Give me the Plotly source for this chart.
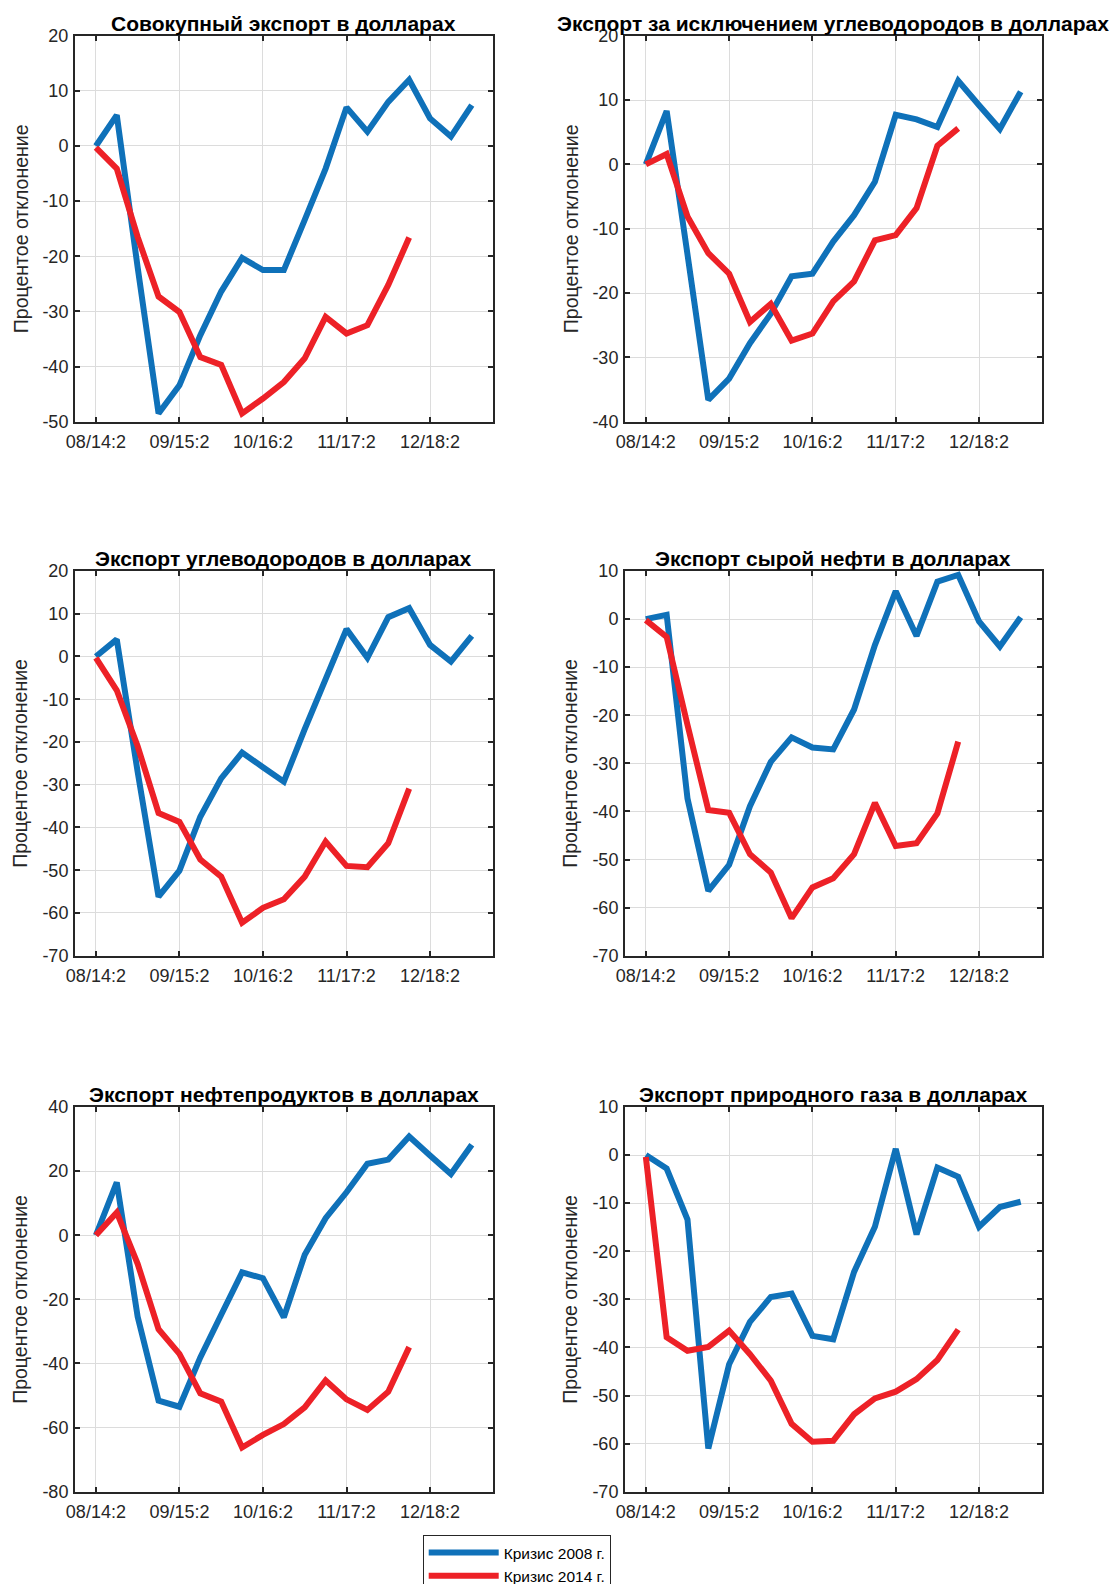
import plotly.graph_objects as go
from plotly.subplots import make_subplots

# Months since the start of each crisis (x positions)
months_2008 = [0, 1, 2, 3, 4, 5, 6, 7, 8, 9, 10, 11, 12, 13, 14, 15, 16, 17, 18]
months_2014 = [0, 1, 2, 3, 4, 5, 6, 7, 8, 9, 10, 11, 12, 13, 14, 15]

tick_months = [0, 4, 8, 12, 16]
tick_labels = ["08/14:2", "09/15:2", "10/16:2", "11/17:2", "12/18:2"]

# Percent deviation, crisis of 2008 (blue) and crisis of 2014 (red)
total_2008 = [0, 5.6, -22, -48.5, -43.4, -34.3, -26.4, -20.3, -22.5, -22.5,
              -13.4, -4.1, 7.0, 2.6, 8.0, 12.0, 5.0, 1.7, 7.4]
total_2014 = [-0.3, -4.1, -16.5, -27.3, -30.1, -38.3, -39.7, -48.5, -45.8, -42.8,
              -38.5, -31.0, -34.0, -32.5, -25.2, -16.6]

nonhc_2008 = [0, 8.3, -14, -36.6, -33.3, -27.8, -23.2, -17.4, -17.0, -12.0,
              -7.9, -2.7, 7.7, 7.0, 5.8, 13.0, 9.2, 5.5, 11.3]
nonhc_2014 = [0, 1.6, -8.1, -13.8, -17.0, -24.5, -21.7, -27.4, -26.3, -21.3,
              -18.2, -11.8, -11.0, -6.8, 2.9, 5.6]

hc_2008 = [0, 4.0, -27, -56.2, -50.1, -37.5, -28.5, -22.5, -25.9, -29.3,
           -17.0, -5.4, 6.4, -0.3, 9.2, 11.3, 2.7, -1.2, 4.8]
hc_2014 = [-0.3, -7.9, -21, -36.6, -38.7, -47.5, -51.5, -62.3, -58.8, -56.8,
           -51.5, -43.3, -49.0, -49.3, -43.7, -30.9]

crude_2008 = [0, 0.9, -37.3, -56.5, -51.1, -38.9, -29.7, -24.6, -26.7, -27.1,
              -18.8, -5.4, 5.8, -3.5, 7.8, 9.2, -0.5, -5.7, 0.4]
crude_2014 = [-0.2, -3.7, -22, -39.7, -40.3, -48.9, -52.7, -62.2, -55.8, -53.9,
              -48.9, -38.2, -47.2, -46.6, -40.4, -25.5]

products_2008 = [0, 16.5, -25.4, -51.6, -53.5, -38.1, -24.8, -11.6, -13.4, -25.6,
                 -6.1, 5.3, 13.4, 22.3, 23.6, 30.8, 24.9, 19.1, 28.2]
products_2014 = [0, 7.1, -8.9, -29.3, -37.0, -49.3, -51.9, -66.2, -62.3, -58.9,
                 -53.7, -45.3, -51.2, -54.5, -48.8, -34.9]

gas_2008 = [0, -2.8, -13.4, -61.0, -43.5, -34.7, -29.5, -28.8, -37.6, -38.3,
            -24.3, -14.9, 1.3, -16.5, -2.6, -4.5, -14.9, -10.8, -9.7]
gas_2014 = [-0.4, -37.9, -40.7, -39.9, -36.5, -41.4, -46.9, -55.9, -59.6, -59.4,
            -53.9, -50.6, -49.2, -46.6, -42.6, -36.3]

# y-axis tick values for each panel
yticks_total = [-50, -40, -30, -20, -10, 0, 10, 20]
yticks_nonhc = [-40, -30, -20, -10, 0, 10, 20]
yticks_hc = [-70, -60, -50, -40, -30, -20, -10, 0, 10, 20]
yticks_crude = [-70, -60, -50, -40, -30, -20, -10, 0, 10]
yticks_products = [-80, -60, -40, -20, 0, 20, 40]
yticks_gas = [-70, -60, -50, -40, -30, -20, -10, 0, 10]

titles = [
    "Совокупный экспорт в долларах",
    "Экспорт за исключением углеводородов в долларах",
    "Экспорт углеводородов в долларах",
    "Экспорт сырой нефти в долларах",
    "Экспорт нефтепродуктов в долларах",
    "Экспорт природного газа в долларах",
]
panels = [
    (total_2008, total_2014, yticks_total),
    (nonhc_2008, nonhc_2014, yticks_nonhc),
    (hc_2008, hc_2014, yticks_hc),
    (crude_2008, crude_2014, yticks_crude),
    (products_2008, products_2014, yticks_products),
    (gas_2008, gas_2014, yticks_gas),
]
y_title = "Процентое отклонение"
series_names = ["Кризис 2008 г.", "Кризис 2014 г."]

BLUE = "#0f71b9"
RED = "#ed2127"
FONT = "Liberation Sans, Arial, sans-serif"
W, H = 1113, 1584

# Axes boxes in pixels: (left, right) per column, (top, bottom) per row
col_px = [(75, 492.7), (625, 1041.5)]
row_px = [(35.7, 421.7), (571, 955.7), (1107, 1491.7)]
ylabel_px = [20.5, 570.5]

fig = make_subplots(rows=3, cols=2)

for i, (s08, s14, yt) in enumerate(panels):
    r, c = i // 2 + 1, i % 2 + 1
    fig.add_trace(go.Scatter(x=months_2008, y=s08, mode="lines",
                             line=dict(color=BLUE, width=6),
                             name=series_names[0], legendgroup="a",
                             showlegend=(i == 0)), row=r, col=c)
    fig.add_trace(go.Scatter(x=months_2014, y=s14, mode="lines",
                             line=dict(color=RED, width=6),
                             name=series_names[1], legendgroup="b",
                             showlegend=(i == 0)), row=r, col=c)

    x0, x1 = col_px[c - 1]
    t, b = row_px[r - 1]
    xd = [x0 / W, x1 / W]
    yd = [1 - b / H, 1 - t / H]
    axis_style = dict(showline=True, linecolor="#262626", linewidth=2,
                      mirror="ticks", ticks="inside", ticklen=5, tickwidth=1.5,
                      tickcolor="#262626", showgrid=True, gridcolor="#dcdcdc",
                      gridwidth=1, zeroline=False,
                      tickfont=dict(family=FONT, size=18, color="#262626"))
    fig.update_xaxes(domain=xd, range=[-1, 19], tickvals=tick_months,
                     ticktext=tick_labels, ticklabelstandoff=3,
                     row=r, col=c, **axis_style)
    fig.update_yaxes(domain=yd, range=[yt[0], yt[-1]], tickvals=yt,
                     ticktext=[str(v) for v in yt], ticklabelstandoff=1,
                     row=r, col=c, **axis_style)

    fig.add_annotation(text="<b>%s</b>" % titles[i], xref="paper", yref="paper",
                       x=(xd[0] + xd[1]) / 2, y=yd[1], xanchor="center",
                       yanchor="bottom", yshift=-1, showarrow=False,
                       font=dict(family=FONT, size=21, color="#000000"))
    fig.add_annotation(text=y_title, xref="paper", yref="paper",
                       x=ylabel_px[c - 1] / W, y=(yd[0] + yd[1]) / 2,
                       xanchor="center", yanchor="middle", textangle=-90,
                       showarrow=False,
                       font=dict(family=FONT, size=19.5, color="#262626"))

fig.update_layout(
    width=W, height=H,
    margin=dict(l=0, r=0, t=0, b=0, autoexpand=False),
    paper_bgcolor="white", plot_bgcolor="white",
    font=dict(family=FONT, color="#262626"),
    legend=dict(x=422.7 / W, y=1 - 1535 / H, xanchor="left", yanchor="top",
                bordercolor="#262626", borderwidth=1, bgcolor="white",
                itemwidth=70, tracegroupgap=0,
                font=dict(family=FONT, size=15.5, color="#000000")),
)

fig.write_html("out.html")
